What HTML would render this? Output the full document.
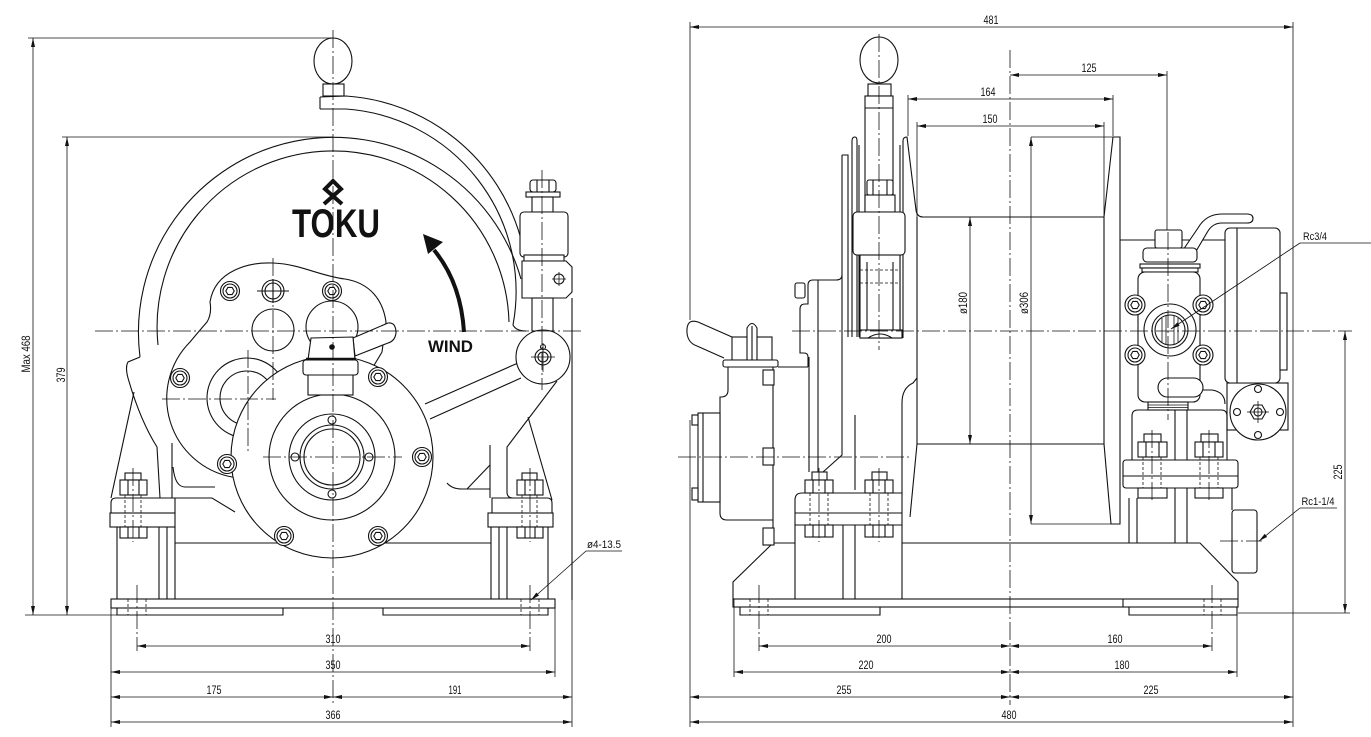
<!DOCTYPE html>
<html><head><meta charset="utf-8"><style>
html,body{margin:0;padding:0;background:#fff}
svg{display:block}
.o{fill:none;stroke:#111;stroke-width:1.1}
.w{fill:#fff;stroke:#111;stroke-width:1.1}
.d{fill:none;stroke:#111;stroke-width:0.8}
.c{fill:none;stroke:#111;stroke-width:0.8;stroke-dasharray:18 3 2 3}
.h{fill:none;stroke:#111;stroke-width:0.8;stroke-dasharray:3 2}
text{font-family:"Liberation Sans",sans-serif;font-size:12px;fill:#111}
.t{text-anchor:middle}
</style></head><body>
<svg width="1371" height="737" viewBox="0 0 1371 737" xmlns="http://www.w3.org/2000/svg">
<defs>
<marker id="ar" viewBox="0 0 9 4" refX="9" refY="2" markerWidth="9" markerHeight="4" markerUnits="userSpaceOnUse" orient="auto-start-reverse"><path d="M0,0L9,2L0,4z" fill="#111"/></marker>
</defs>
<rect width="1371" height="737" fill="#fff"/>

<!-- ================= LEFT VIEW ================= -->
<path class="o" d="M140 357A195 195 0 0 1 521 279"/>
<path class="o" d="M158 345A176 176 0 1 1 509 322"/>
<path class="o" d="M320 97L346 96A195 195 0 0 1 521 239"/>
<path class="o" d="M320 109L346 109A183 183 0 0 1 513 325Q516 331 526 331"/>
<line class="o" x1="320" y1="97" x2="320" y2="109"/>
<ellipse class="w" cx="333" cy="61" rx="19" ry="23"/>
<rect class="w" x="323" y="84" width="21" height="12"/>

<path class="o" d="M140 357L128 362Q125 367 128 378Q140 420 157 447L160 498"/>
<path class="o" d="M134 392L111 498"/>
<path class="o" d="M172 443V498"/>
<path class="o" d="M173 467Q175 487 185 487H215"/>
<path class="o" d="M175 498H212L235 512"/>
<path class="o" d="M557 381L507 447V492Q507 498 513 498"/>
<path class="o" d="M528 417L552 500"/>
<path class="o" d="M572 298V600"/>
<path class="o" d="M490 445V498"/>
<path class="o" d="M447 483Q452 489 462 489H490"/>
<path class="o" d="M467 489L490 465"/>
<path class="o" d="M518 363L425 404"/>
<path class="o" d="M521 378L430 419"/>
<path class="o" d="M117 527V599M159 527V599M167 527V599M175 527V599M175 543H491M491 527V599M499 527V599M507 527V599M548 527V599"/>
<rect class="o" x="111" y="599" width="444" height="9"/>
<path class="o" d="M117 608V615H283V608M383 608V615H548V608"/>
<path class="h" d="M128 599V615M146 599V615M521 599V615M539 599V615"/>

<path class="w" d="M232 477A80 80 0 0 1 190 342Q200 330 207 322Q212 314 210 302C215 270 250 262 273 263C300 264 320 276 345 279C370 283 383 300 386 322L382 352L370 372L300 420L240 478Z"/>
<circle class="o" cx="273" cy="330" r="21"/>
<circle class="o" cx="332" cy="327" r="26"/>
<circle class="o" cx="247" cy="398" r="40"/>
<circle class="o" cx="247" cy="398" r="27"/>

<circle class="w" cx="332" cy="457" r="101"/>
<circle class="o" cx="332" cy="457" r="63"/>
<circle class="o" cx="332" cy="457" r="43"/>
<circle class="o" cx="332" cy="457" r="32"/>
<circle class="o" cx="332" cy="457" r="28"/>
<circle class="w" cx="332" cy="420" r="4"/>
<circle class="w" cx="332" cy="494" r="4"/>
<circle class="w" cx="295" cy="457" r="4"/>
<circle class="w" cx="369" cy="457" r="4"/>

<path class="w" d="M353 338L388 323Q396 322 396 333Q395 341 388 343L355 356Z"/>
<rect class="w" x="308" y="372" width="45" height="23"/>
<rect class="w" x="303" y="360" width="55" height="15" rx="3"/>
<path class="w" d="M308 360L311 338L353 337L355 360Z"/>
<line x1="306" y1="359" x2="356" y2="359" stroke="#111" stroke-width="2.5"/>
<circle cx="332" cy="347" r="2.8" fill="#111"/>

<g transform="translate(230 291)"><circle class="w" r="9.5"/><circle class="o" r="7"/><polygon class="o" points="4.2,0 2.1,3.6 -2.1,3.6 -4.2,0 -2.1,-3.6 2.1,-3.6"/></g>
<g transform="translate(332 291)"><circle class="w" r="9.5"/><circle class="o" r="7"/><polygon class="o" points="4.2,0 2.1,3.6 -2.1,3.6 -4.2,0 -2.1,-3.6 2.1,-3.6"/></g>
<g transform="translate(180 378)"><circle class="w" r="9.5"/><circle class="o" r="7"/><polygon class="o" points="4.2,0 2.1,3.6 -2.1,3.6 -4.2,0 -2.1,-3.6 2.1,-3.6"/></g>
<g transform="translate(378 377)"><circle class="w" r="9.5"/><circle class="o" r="7"/><polygon class="o" points="4.2,0 2.1,3.6 -2.1,3.6 -4.2,0 -2.1,-3.6 2.1,-3.6"/></g>
<g transform="translate(227 464)"><circle class="w" r="9.5"/><circle class="o" r="7"/><polygon class="o" points="4.2,0 2.1,3.6 -2.1,3.6 -4.2,0 -2.1,-3.6 2.1,-3.6"/></g>
<g transform="translate(422 457)"><circle class="w" r="9.5"/><circle class="o" r="7"/><polygon class="o" points="4.2,0 2.1,3.6 -2.1,3.6 -4.2,0 -2.1,-3.6 2.1,-3.6"/></g>
<g transform="translate(284 536)"><circle class="w" r="9.5"/><circle class="o" r="7"/><polygon class="o" points="4.2,0 2.1,3.6 -2.1,3.6 -4.2,0 -2.1,-3.6 2.1,-3.6"/></g>
<g transform="translate(378 536)"><circle class="w" r="9.5"/><circle class="o" r="7"/><polygon class="o" points="4.2,0 2.1,3.6 -2.1,3.6 -4.2,0 -2.1,-3.6 2.1,-3.6"/></g>
<g transform="translate(273 291)"><circle class="w" r="11"/><circle class="o" r="8"/><path class="o" d="M-16 0H16M0 -12V12"/></g>

<rect class="w" x="530" y="180" width="26" height="12" rx="3"/>
<path class="o" d="M537 180V192M549 180V192"/>
<rect class="w" x="526" y="192" width="34" height="5"/>
<rect class="w" x="532" y="197" width="21" height="15"/>
<rect class="w" x="520" y="212" width="48" height="45" rx="4"/>
<rect class="w" x="524" y="255" width="40" height="6"/>
<path class="w" d="M522 261L566 261L572 267L572 292L566 298L522 298Z"/>
<circle class="o" cx="559" cy="279" r="5"/>
<path class="d" d="M552 279H566M559 272V286"/>
<rect class="w" x="532" y="298" width="21" height="33"/>
<circle class="w" cx="543" cy="357" r="27"/>
<circle class="o" cx="543" cy="357" r="8"/>
<circle class="o" cx="543" cy="357" r="5"/>
<circle class="o" cx="543" cy="347" r="2.5"/>
<path class="d" d="M531 357H555M543 343V372"/>

<path class="w" d="M111 513V503Q111 498 116 498H175V513Z"/>
<rect class="w" x="110" y="513" width="65" height="14"/>
<rect class="w" x="125" y="473" width="16" height="7"/>
<rect class="w" x="120" y="480" width="27" height="15"/>
<path class="o" d="M128 480V495M139 480V495"/>
<rect class="w" x="120" y="527" width="27" height="11"/>
<path class="o" d="M128 527V538M139 527V538"/>
<path class="h" d="M125 495V527M141 495V527"/>
<path class="w" d="M492 513V498H547Q552 498 552 503V513Z"/>
<rect class="w" x="488" y="513" width="65" height="14"/>
<rect class="w" x="522" y="473" width="15" height="7"/>
<rect class="w" x="517" y="480" width="26" height="15"/>
<path class="o" d="M525 480V495M535 480V495"/>
<rect class="w" x="517" y="527" width="26" height="11"/>
<path class="o" d="M525 527V538M535 527V538"/>
<path class="h" d="M522 495V527M537 495V527"/>

<path d="M342 204L325 189L333 181L341 189L324 204" fill="none" stroke="#111" stroke-width="4"/>
<text x="292" y="237" style="font-size:40px;font-weight:bold" textLength="88" lengthAdjust="spacingAndGlyphs">TOKU</text>
<path d="M464 332C462 300 453 273 434 250" fill="none" stroke="#111" stroke-width="4"/>
<polygon points="423,234 443,242 428,254" fill="#111"/>
<text x="428" y="352" style="font-size:17px;font-weight:bold" textLength="45" lengthAdjust="spacingAndGlyphs">WIND</text>

<line class="c" x1="333" y1="30" x2="333" y2="705"/>
<line class="c" x1="95" y1="331" x2="581" y2="331"/>
<line class="c" x1="162" y1="399" x2="276" y2="399"/>
<line class="c" x1="248" y1="350" x2="248" y2="453"/>
<line class="c" x1="273" y1="258" x2="273" y2="400"/>
<line class="c" x1="263" y1="457" x2="402" y2="457"/>
<line class="c" x1="542" y1="170" x2="542" y2="390"/>
<line class="c" x1="133" y1="468" x2="133" y2="542"/>
<line class="c" x1="530" y1="468" x2="530" y2="542"/>
<line class="c" x1="137" y1="585" x2="137" y2="651"/>
<line class="c" x1="530" y1="585" x2="530" y2="651"/>

<line class="d" x1="28" y1="38" x2="333" y2="38"/>
<line class="d" x1="33" y1="38" x2="33" y2="615" marker-start="url(#ar)" marker-end="url(#ar)"/>
<line class="d" x1="25" y1="615" x2="117" y2="615"/>
<text transform="translate(30 354) rotate(-90)" class="t" textLength="37" lengthAdjust="spacingAndGlyphs">Max 468</text>
<line class="d" x1="62" y1="137" x2="333" y2="137"/>
<line class="d" x1="67" y1="137" x2="67" y2="615" marker-start="url(#ar)" marker-end="url(#ar)"/>
<text transform="translate(65 375) rotate(-90)" class="t" textLength="15" lengthAdjust="spacingAndGlyphs">379</text>
<line class="d" x1="111" y1="599" x2="111" y2="727"/>
<line class="d" x1="555" y1="608" x2="555" y2="677"/>
<line class="d" x1="572" y1="600" x2="572" y2="727"/>
<line class="d" x1="137" y1="646" x2="530" y2="646" marker-start="url(#ar)" marker-end="url(#ar)"/>
<text x="333" y="643" class="t" textLength="15" lengthAdjust="spacingAndGlyphs">310</text>
<line class="d" x1="111" y1="672" x2="555" y2="672" marker-start="url(#ar)" marker-end="url(#ar)"/>
<text x="333" y="669" class="t" textLength="15" lengthAdjust="spacingAndGlyphs">350</text>
<line class="d" x1="111" y1="697" x2="333" y2="697" marker-start="url(#ar)" marker-end="url(#ar)"/>
<line class="d" x1="333" y1="697" x2="572" y2="697" marker-start="url(#ar)" marker-end="url(#ar)"/>
<text x="214" y="694" class="t" textLength="15" lengthAdjust="spacingAndGlyphs">175</text>
<text x="455" y="694" class="t" textLength="13" lengthAdjust="spacingAndGlyphs">191</text>
<line class="d" x1="111" y1="722" x2="572" y2="722" marker-start="url(#ar)" marker-end="url(#ar)"/>
<text x="333" y="719" class="t" textLength="15" lengthAdjust="spacingAndGlyphs">366</text>
<text x="604" y="548" class="t" style="font-size:11px" textLength="34" lengthAdjust="spacingAndGlyphs">ø4-13.5</text>
<line class="d" x1="586" y1="551" x2="622" y2="551"/>
<line class="d" x1="586" y1="551" x2="531" y2="600" marker-end="url(#ar)"/>

<!-- ================= RIGHT VIEW ================= -->
<path class="o" d="M903 338V141Q903 137 907 137L916 210Q917 217 923 217H1104"/>
<path class="o" d="M917 217V444M1104 217V444M917 444H1104M917 444L910 517"/>
<path class="o" d="M1104 217L1113 137H1120V524H1111L1104 444"/>
<path class="o" d="M1120 240H1225"/>

<rect class="w" x="1227" y="383" width="61" height="47"/>
<rect class="w" x="1225" y="228" width="55" height="155" rx="5"/>
<line class="o" x1="1237" y1="228" x2="1237" y2="383"/>
<rect class="w" x="1280" y="293" width="7" height="77"/>
<circle class="w" cx="1258" cy="412" r="28"/>
<circle class="o" cx="1258" cy="389" r="3.5"/><circle class="o" cx="1237" cy="412" r="3.5"/><circle class="o" cx="1280" cy="412" r="3.5"/><circle class="o" cx="1258" cy="435" r="3.5"/>
<polygon class="o" points="1266,412 1262,419 1254,419 1250,412 1254,405 1262,405"/>
<circle class="o" cx="1258" cy="412" r="4"/>
<path class="d" d="M1247 412H1269M1258 401V423"/>

<path class="o" d="M1175 402V543M1187 402V543"/>
<path class="o" d="M1132 460V416Q1132 410 1138 410H1148M1188 410H1221Q1227 410 1227 416V460"/>
<path class="o" d="M1200 390H1212Q1225 392 1225 404"/>
<path class="w" d="M1183 250L1198 228Q1206 214 1222 214H1247Q1253 214 1253 218.5Q1253 223 1247 223H1222Q1213 223 1208 231L1192 258Z"/>
<rect class="w" x="1155" y="230" width="27" height="18" rx="2"/>
<rect class="w" x="1143" y="248" width="54" height="14" rx="4"/>
<rect class="w" x="1140" y="264" width="60" height="4"/>
<rect class="w" x="1142" y="268" width="56" height="4"/>
<rect class="w" x="1138" y="272" width="62" height="130" rx="7"/>
<g transform="translate(1135 305)"><circle class="w" r="10"/><circle class="o" r="7"/><polygon class="o" points="4.2,0 2.1,3.6 -2.1,3.6 -4.2,0 -2.1,-3.6 2.1,-3.6"/></g>
<g transform="translate(1203 305)"><circle class="w" r="10"/><circle class="o" r="7"/><polygon class="o" points="4.2,0 2.1,3.6 -2.1,3.6 -4.2,0 -2.1,-3.6 2.1,-3.6"/></g>
<g transform="translate(1135 355)"><circle class="w" r="10"/><circle class="o" r="7"/><polygon class="o" points="4.2,0 2.1,3.6 -2.1,3.6 -4.2,0 -2.1,-3.6 2.1,-3.6"/></g>
<g transform="translate(1203 355)"><circle class="w" r="10"/><circle class="o" r="7"/><polygon class="o" points="4.2,0 2.1,3.6 -2.1,3.6 -4.2,0 -2.1,-3.6 2.1,-3.6"/></g>
<circle class="w" cx="1170" cy="330" r="26"/>
<circle class="o" cx="1170" cy="330" r="18"/>
<circle class="o" cx="1170" cy="330" r="15"/>
<path class="d" d="M1162 318V342M1166 316V344M1174 316V344M1178 318V342"/>
<rect class="w" x="1158" y="378" width="45" height="19" rx="9.5"/>
<rect class="w" x="1148" y="402" width="40" height="8"/>
<path class="d" d="M1148 405H1188M1148 407.5H1188"/>
<rect class="w" x="1123" y="460" width="115" height="28" rx="3"/>
<line class="o" x1="1123" y1="476" x2="1238" y2="476"/>
<rect class="w" x="1144" y="434" width="17" height="8"/>
<rect class="w" x="1138" y="442" width="29" height="15"/>
<path class="o" d="M1146 442V457M1159 442V457"/>
<rect class="w" x="1201" y="434" width="17" height="8"/>
<rect class="w" x="1195" y="442" width="28" height="15"/>
<path class="o" d="M1203 442V457M1215 442V457"/>
<rect class="w" x="1138" y="488" width="29" height="10"/>
<rect class="w" x="1195" y="488" width="28" height="10"/>
<path class="h" d="M1143 457V488M1161 457V488M1200 457V488M1218 457V488"/>
<path class="o" d="M1129 498V543M1137 498V543M1232 488V510"/>
<rect class="w" x="1232" y="510" width="25" height="63" rx="3"/>

<path class="o" d="M733 599V582L773 543H795M902 543H1200L1238 582V599"/>
<rect class="o" x="733" y="599" width="505" height="8"/>
<line class="o" x1="1123" y1="599" x2="1123" y2="607"/>
<path class="o" d="M740 607V615H880V607M1129 607V615H1237V607"/>
<path class="h" d="M750 599V615M768 599V615M1204 599V615M1221 599V615"/>

<path class="o" d="M795 525V599M843 525V599M855 525V599M902 525V599"/>
<path class="o" d="M842 155V455L823 472"/>
<path class="o" d="M855 415V490"/>
<path class="o" d="M902 493V403Q902 388 913 383L917 378"/>
<path class="o" d="M809 357V472M818 280V472"/>
<path class="w" d="M795 525V500Q795 493 802 493H902V525Z"/>
<line class="o" x1="795" y1="513" x2="902" y2="513"/>
<rect class="w" x="812" y="472" width="15" height="8"/>
<rect class="w" x="805" y="480" width="28" height="13"/>
<path class="o" d="M813 480V493M825 480V493"/>
<rect class="w" x="872" y="472" width="15" height="8"/>
<rect class="w" x="865" y="480" width="28" height="13"/>
<path class="o" d="M873 480V493M885 480V493"/>
<rect class="w" x="805" y="525" width="28" height="12"/>
<rect class="w" x="865" y="525" width="28" height="12"/>
<path class="o" d="M813 525V537M825 525V537M873 525V537M885 525V537"/>
<path class="h" d="M810 493V525M828 493V525M870 493V525M888 493V525"/>

<path class="o" d="M852 337V141Q852 137 855 137Q857 137 857 141V337M859 145V337M900 145V337"/>
<ellipse class="w" cx="879" cy="60" rx="19" ry="23"/>
<rect class="w" x="868" y="84" width="23" height="12"/>
<rect class="w" x="865" y="96" width="28" height="116"/>
<line class="o" x1="865" y1="108" x2="893" y2="108"/>
<rect class="w" x="867" y="180" width="26" height="15" rx="2"/>
<path class="o" d="M873 180V195M887 180V195"/>
<rect class="w" x="865" y="195" width="30" height="17"/>
<rect class="w" x="853" y="212" width="52" height="43" rx="4"/>
<rect class="w" x="860" y="255" width="40" height="83"/>
<path class="o" d="M867 262V330M893 262V330"/>
<path class="h" d="M860 270H900M860 283H900"/>
<rect class="w" x="860" y="330" width="42" height="8"/>
<path class="o" d="M868 338Q880 330 892 338"/>

<path class="o" d="M808 367V357Q808 353 804 353H800V309Q800 304 805 304H808V285Q808 280 813 280H836Q842 280 842 275"/>
<path class="o" d="M842 155H848V337"/>
<rect class="w" x="795" y="283" width="10" height="15" rx="2"/>

<path class="w" d="M732 337L698 322Q686 318 687 333Q688 343 697 346L724 358"/>
<rect class="w" x="732" y="337" width="40" height="23"/>
<path class="w" d="M747 360V328Q752 319 757 328V360"/>
<line class="o" x1="752" y1="326" x2="752" y2="360"/>
<rect class="w" x="723" y="360" width="55" height="7" rx="2"/>
<path class="o" d="M778 367H808"/>
<path class="o" d="M728 367V390Q728 397 721 397H720V513Q720 520 727 520H773"/>
<path class="o" d="M773 367V543"/>
<rect class="w" x="698" y="413" width="22" height="89"/>
<line class="o" x1="703" y1="413" x2="703" y2="502"/>
<rect class="w" x="692" y="415" width="6" height="10"/>
<rect class="w" x="692" y="488" width="6" height="12"/>
<rect class="w" x="763" y="370" width="11" height="15"/>
<rect class="w" x="763" y="448" width="11" height="17"/>
<rect class="w" x="763" y="528" width="11" height="17"/>

<line class="c" x1="1010" y1="50" x2="1010" y2="705"/>
<line class="c" x1="792" y1="331" x2="1352" y2="331"/>
<line class="c" x1="678" y1="457" x2="912" y2="457"/>
<line class="c" x1="879" y1="34" x2="879" y2="350"/>
<line class="c" x1="1168" y1="232" x2="1168" y2="420"/>
<line class="c" x1="819" y1="468" x2="819" y2="542"/>
<line class="c" x1="879" y1="468" x2="879" y2="542"/>
<line class="c" x1="1152" y1="430" x2="1152" y2="502"/>
<line class="c" x1="1209" y1="430" x2="1209" y2="502"/>
<line class="c" x1="759" y1="585" x2="759" y2="651"/>
<line class="c" x1="1212" y1="585" x2="1212" y2="651"/>

<line class="d" x1="690" y1="22" x2="690" y2="320"/>
<line class="d" x1="690" y1="420" x2="690" y2="727"/>
<line class="d" x1="1293" y1="22" x2="1293" y2="727"/>
<line class="d" x1="690" y1="27" x2="1293" y2="27" marker-start="url(#ar)" marker-end="url(#ar)"/>
<text x="991" y="24" class="t" textLength="15" lengthAdjust="spacingAndGlyphs">481</text>
<line class="d" x1="1167" y1="71" x2="1167" y2="230"/>
<line class="d" x1="1010" y1="75" x2="1167" y2="75" marker-start="url(#ar)" marker-end="url(#ar)"/>
<text x="1089" y="72" class="t" textLength="15" lengthAdjust="spacingAndGlyphs">125</text>
<line class="d" x1="908" y1="95" x2="908" y2="136"/>
<line class="d" x1="1113" y1="95" x2="1113" y2="136"/>
<line class="d" x1="908" y1="99" x2="1113" y2="99" marker-start="url(#ar)" marker-end="url(#ar)"/>
<text x="988" y="96" class="t" textLength="15" lengthAdjust="spacingAndGlyphs">164</text>
<line class="d" x1="917" y1="122" x2="917" y2="217"/>
<line class="d" x1="1104" y1="122" x2="1104" y2="217"/>
<line class="d" x1="917" y1="126" x2="1104" y2="126" marker-start="url(#ar)" marker-end="url(#ar)"/>
<text x="990" y="123" class="t" textLength="15" lengthAdjust="spacingAndGlyphs">150</text>
<line class="d" x1="970" y1="217" x2="970" y2="444" marker-start="url(#ar)" marker-end="url(#ar)"/>
<text transform="translate(967 303) rotate(-90)" class="t" textLength="22" lengthAdjust="spacingAndGlyphs">ø180</text>
<line class="d" x1="1031" y1="137" x2="1113" y2="137"/>
<line class="d" x1="1031" y1="524" x2="1111" y2="524"/>
<line class="d" x1="1031" y1="137" x2="1031" y2="524" marker-start="url(#ar)" marker-end="url(#ar)"/>
<text transform="translate(1028 303) rotate(-90)" class="t" textLength="22" lengthAdjust="spacingAndGlyphs">ø306</text>
<line class="d" x1="1238" y1="613" x2="1350" y2="613"/>
<line class="d" x1="1345" y1="331" x2="1345" y2="613" marker-start="url(#ar)" marker-end="url(#ar)"/>
<text transform="translate(1342 472) rotate(-90)" class="t" textLength="15" lengthAdjust="spacingAndGlyphs">225</text>
<line class="d" x1="734" y1="599" x2="734" y2="677"/>
<line class="d" x1="1237" y1="607" x2="1237" y2="677"/>
<line class="d" x1="759" y1="646" x2="1010" y2="646" marker-start="url(#ar)" marker-end="url(#ar)"/>
<line class="d" x1="1010" y1="646" x2="1212" y2="646" marker-start="url(#ar)" marker-end="url(#ar)"/>
<text x="884" y="643" class="t" textLength="15" lengthAdjust="spacingAndGlyphs">200</text>
<text x="1115" y="643" class="t" textLength="15" lengthAdjust="spacingAndGlyphs">160</text>
<line class="d" x1="734" y1="672" x2="1010" y2="672" marker-start="url(#ar)" marker-end="url(#ar)"/>
<line class="d" x1="1010" y1="672" x2="1237" y2="672" marker-start="url(#ar)" marker-end="url(#ar)"/>
<text x="866" y="669" class="t" textLength="15" lengthAdjust="spacingAndGlyphs">220</text>
<text x="1122" y="669" class="t" textLength="15" lengthAdjust="spacingAndGlyphs">180</text>
<line class="d" x1="690" y1="697" x2="1010" y2="697" marker-start="url(#ar)" marker-end="url(#ar)"/>
<line class="d" x1="1010" y1="697" x2="1293" y2="697" marker-start="url(#ar)" marker-end="url(#ar)"/>
<text x="844" y="694" class="t" textLength="15" lengthAdjust="spacingAndGlyphs">255</text>
<text x="1151" y="694" class="t" textLength="15" lengthAdjust="spacingAndGlyphs">225</text>
<line class="d" x1="690" y1="722" x2="1293" y2="722" marker-start="url(#ar)" marker-end="url(#ar)"/>
<text x="1009" y="719" class="t" textLength="15" lengthAdjust="spacingAndGlyphs">480</text>
<text x="1315" y="240" class="t" style="font-size:11px" textLength="24" lengthAdjust="spacingAndGlyphs">Rc3/4</text>
<line class="d" x1="1300" y1="243" x2="1371" y2="243"/>
<line class="d" x1="1300" y1="243" x2="1171" y2="329" marker-end="url(#ar)"/>
<text x="1318" y="505" class="t" style="font-size:11px" textLength="33" lengthAdjust="spacingAndGlyphs">Rc1-1/4</text>
<line class="d" x1="1300" y1="508" x2="1337" y2="508"/>
<line class="d" x1="1300" y1="508" x2="1259" y2="541" marker-end="url(#ar)"/>
<line class="c" x1="1220" y1="541" x2="1262" y2="541"/>
</svg>
</body></html>
